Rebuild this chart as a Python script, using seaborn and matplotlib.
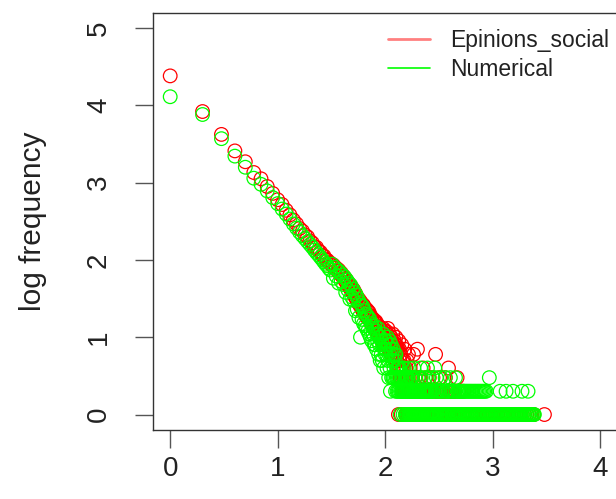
import matplotlib
matplotlib.use("Agg")
import numpy as np
import pandas as pd
import matplotlib.pyplot as plt
import seaborn as sns
from matplotlib.lines import Line2D

# ---------------------------------------------------------------------------
# Degree distributions (degree -> number of nodes with that degree)
# ---------------------------------------------------------------------------
series_names = ["Epinions_social", "Numerical"]
series_colors = ["#FF0000", "#00FF00"]

# Epinions_social: node counts for degrees 1..100
epinions_head_counts = [
    24000, 8300, 4200, 2570, 1860, 1350, 1120, 890, 725, 600,
    520, 438, 382, 328, 292, 255, 236, 210, 198, 176,
    166, 148, 145, 131, 126, 115, 112, 101, 99, 92,
    91, 85, 86, 78, 79, 72, 74, 66, 68, 61,
    62, 55, 57, 49, 52, 45, 48, 41, 44, 38,
    41, 34, 37, 31, 33, 28, 31, 26, 29, 24,
    27, 22, 26, 21, 24, 19, 23, 18, 22, 19,
    21, 17, 19, 15, 18, 16, 14, 17, 13, 16,
    14, 16, 12, 15, 13, 11, 14, 12, 13, 10,
    13, 11, 9, 12, 10, 13, 8, 11, 12, 9,
]
# Epinions_social: degrees above 100 held by two or more nodes
epinions_tail_degrees = [
    101, 102, 103, 104, 105, 106, 107, 108, 109, 110,
    111, 112, 113, 114, 115, 116, 117, 118, 119, 120,
    121, 122, 123, 124, 125, 126, 127, 128, 129, 130,
    131, 132, 134, 135, 136, 137, 138, 139, 140, 142,
    143, 144, 145, 146, 147, 148, 149, 150, 151, 152,
    153, 154, 156, 157, 159, 160, 162, 163, 165, 166,
    168, 170, 171, 173, 175, 177, 180, 182, 184, 187,
    190, 193, 197, 200, 203, 206, 209, 213, 217, 221,
    226, 230, 235, 240, 246, 252, 258, 265, 272, 279,
    287, 295, 303, 312, 321, 331, 342, 353, 364, 377,
    389, 402, 418, 433, 450, 468, 487, 510, 536,
]
epinions_tail_counts = [
    10, 12, 8, 11, 9, 13, 8, 10, 7, 11,
    9, 8, 10, 6, 9, 8, 7, 11, 6, 8,
    7, 9, 5, 8, 7, 10, 8, 5, 7, 6,
    4, 7, 9, 4, 7, 5, 3, 6, 4, 3,
    8, 4, 2, 5, 3, 4, 2, 5, 3, 7,
    2, 3, 4, 2, 3, 5, 2, 3, 6, 2,
    3, 2, 4, 2, 3, 2, 3, 2, 6, 2,
    3, 2, 2, 7, 2, 3, 2, 3, 2, 2,
    4, 2, 2, 3, 2, 2, 3, 2, 2, 3,
    2, 6, 2, 2, 3, 2, 2, 2, 3, 2,
    4, 2, 2, 2, 2, 3, 2, 2, 2,
]
# Epinions_social: degrees held by exactly one node
epinions_single_degrees = [
    133, 141, 155, 158, 161, 164, 167, 169, 172, 174,
    176, 178, 179, 181, 183, 185, 186, 188, 189, 191,
    192, 194, 195, 196, 198, 199, 201, 204, 207, 210,
    214, 219, 224, 228, 233, 238, 243, 249, 255, 262,
    268, 276, 283, 291, 299, 307, 316, 326, 336, 347,
    358, 370, 383, 396, 410, 425, 441, 458, 476, 495,
    516, 524, 551, 578, 603, 631, 660, 694, 726, 765,
    801, 842, 880, 925, 968, 1015, 1066, 1119, 1170, 1228,
    1290, 1351, 1417, 1488, 1560, 1641, 1718, 1806, 1893, 1987,
    2081, 2190, 2301, 2415, 3040,
]

# Numerical: node counts for degrees 1..100
numerical_head_counts = [
    12900, 7600, 3700, 2200, 1580, 1140, 950, 780, 640, 535,
    455, 392, 338, 292, 258, 228, 206, 188, 172, 158,
    146, 134, 124, 116, 108, 101, 94, 88, 84, 78,
    74, 88, 58, 80, 62, 74, 50, 69, 53, 64,
    48, 60, 38, 55, 41, 50, 31, 47, 33, 42,
    30, 38, 22, 35, 23, 31, 18, 28, 10, 26,
    17, 25, 15, 22, 14, 20, 13, 19, 12, 18,
    11, 17, 10, 15, 9, 14, 11, 13, 8, 14,
    8, 12, 7, 11, 9, 13, 6, 10, 8, 5,
    10, 6, 9, 5, 8, 11, 4, 7, 9, 6,
]
# Numerical: degrees above 100 held by two or more nodes
numerical_tail_degrees = [
    101, 102, 103, 104, 105, 106, 107, 108, 109, 110,
    111, 112, 113, 114, 115, 116, 117, 118, 119, 120,
    121, 122, 123, 124, 125, 126, 127, 128, 129, 130,
    131, 132, 133, 134, 135, 136, 137, 139, 140, 142,
    143, 144, 145, 146, 148, 149, 150, 151, 152, 153,
    155, 156, 157, 159, 160, 162, 163, 164, 166, 168,
    169, 171, 173, 175, 177, 179, 180, 182, 185, 186,
    188, 190, 192, 195, 197, 199, 203, 205, 208, 210,
    214, 217, 219, 223, 226, 230, 234, 236, 238, 244,
    248, 251, 255, 260, 264, 270, 274, 277, 281, 290,
    297, 300, 305, 314, 324, 330, 339, 350, 362, 372,
    381, 391, 405, 411, 425, 432, 447, 452, 470, 479,
    492, 505, 520, 532, 547, 561, 577, 592, 608, 625,
    642, 660, 679, 698, 717, 738, 758, 780, 802, 825,
    848, 873, 933, 1175, 1336, 1550, 1880, 2140,
]
numerical_tail_counts = [
    7, 9, 6, 4, 10, 5, 8, 3, 6, 9,
    4, 2, 7, 8, 3, 6, 5, 3, 7, 3,
    4, 6, 3, 5, 2, 6, 3, 4, 2, 3,
    4, 2, 3, 4, 2, 3, 4, 2, 3, 2,
    3, 2, 4, 2, 3, 2, 2, 4, 2, 3,
    2, 3, 2, 2, 3, 2, 2, 3, 2, 4,
    2, 2, 3, 3, 2, 2, 3, 2, 4, 2,
    2, 3, 2, 2, 2, 2, 3, 2, 2, 2,
    4, 3, 2, 2, 2, 2, 2, 3, 2, 2,
    4, 2, 3, 2, 2, 2, 2, 3, 2, 4,
    2, 3, 2, 2, 2, 3, 2, 2, 3, 2,
    2, 2, 3, 2, 2, 2, 2, 3, 2, 2,
    2, 2, 2, 2, 2, 2, 2, 2, 2, 2,
    2, 2, 2, 2, 2, 2, 2, 2, 2, 2,
    2, 2, 3, 2, 2, 2, 2, 2,
]
# Numerical: degrees held by exactly one node
numerical_single_degrees = [
    138, 147, 154, 158, 161, 165, 167, 170, 172, 174,
    176, 178, 181, 183, 184, 187, 189, 191, 193, 194,
    196, 198, 200, 201, 204, 206, 209, 212, 215, 218,
    221, 225, 228, 232, 240, 242, 246, 253, 257, 262,
    266, 272, 279, 284, 287, 293, 302, 308, 318, 321,
    327, 335, 344, 353, 358, 367, 376, 386, 396, 402,
    416, 420, 428, 440, 446, 458, 463, 475, 488, 497,
    510, 526, 540, 553, 570, 585, 600, 616, 633, 650,
    668, 688, 707, 727, 748, 768, 790, 812, 836, 860,
    885, 905, 921, 945, 970, 995, 1021, 1048, 1076, 1104,
    1133, 1163, 1193, 1225, 1257, 1290, 1324, 1359, 1394, 1431,
    1469, 1507, 1547, 1588, 1630, 1672, 1716, 1762, 1808, 1855,
    1904, 1954, 2006, 2058, 2113, 2168, 2225, 2284, 2344, 2406,
    2450,
]

x_ticks = [0, 1, 2, 3, 4]
y_ticks = [0, 1, 2, 3, 4, 5]
y_label = "log frequency"


def degree_table(head_counts, tail_degrees, tail_counts, single_degrees, name):
    degrees = list(range(1, len(head_counts) + 1)) + tail_degrees + single_degrees
    counts = head_counts + tail_counts + [1] * len(single_degrees)
    frame = pd.DataFrame({"degree": degrees, "count": counts})
    frame["log_degree"] = np.log10(frame["degree"])
    frame["log_count"] = np.log10(frame["count"])
    frame["series"] = name
    return frame


# Epinions first so the Numerical circles are painted over it
df = pd.concat(
    [
        degree_table(epinions_head_counts, epinions_tail_degrees,
                     epinions_tail_counts, epinions_single_degrees, series_names[0]),
        degree_table(numerical_head_counts, numerical_tail_degrees,
                     numerical_tail_counts, numerical_single_degrees, series_names[1]),
    ],
    ignore_index=True,
)

sns.set_theme(style="white")
plt.rcParams["font.family"] = ["Liberation Sans", "DejaVu Sans"]

W, H = 616, 499
fig = plt.figure(figsize=(W / 100, H / 100), dpi=100)
fig.patch.set_facecolor("white")
left, right, top, bottom = 153, 617.2, 12.5, 430
ax = fig.add_axes([left / W, 1 - bottom / H, (right - left) / W, (bottom - top) / H])

palette = dict(zip(series_names, series_colors))
sns.scatterplot(
    data=df, x="log_degree", y="log_count", hue="series",
    palette=palette, s=96, linewidth=0.9, legend=False, ax=ax,
)
# open circles: move the hue colours onto the edges
points = ax.collections[0]
edge_colors = points.get_facecolors()
points.set_edgecolors(edge_colors)
points.set_facecolors("none")

ax.set_xlim(-0.16, 4.16)
ax.set_ylim(-0.2, 5.2)
ax.set_xticks(x_ticks)
ax.set_yticks(y_ticks)
ax.set_xticklabels([str(t) for t in x_ticks], fontsize=20, color="#222222")
ax.set_yticklabels([str(t) for t in y_ticks], fontsize=20, rotation=90,
                   va="center", color="#222222")
ax.set_xlabel("")
ax.set_ylabel(y_label, fontsize=21.5, color="#222222")
ax.yaxis.set_label_coords(-0.228, 0.5)

for side in ["left", "right", "top", "bottom"]:
    ax.spines[side].set_visible(True)
    ax.spines[side].set_color("#333333")
    ax.spines[side].set_linewidth(1.0)
ax.tick_params(axis="x", direction="out", length=13, width=1.0, color="#555555",
               pad=6, bottom=True)
ax.tick_params(axis="y", direction="out", length=13, width=1.0, color="#555555",
               pad=16.5, left=True)
ax.grid(False)

handles = [
    Line2D([], [], color="#ff8080", lw=2.0),
    Line2D([], [], color="#00ff00", lw=1.2),
]
fig.legend(
    handles, series_names, loc="upper left",
    bbox_to_anchor=(388 / W, 1 - 29.5 / H), bbox_transform=fig.transFigure,
    frameon=False, fontsize=16.5, borderpad=0, borderaxespad=0,
    handlelength=1.83, handletextpad=0.86, labelspacing=0.26,
    labelcolor="#222222",
)

fig.savefig("out.png", dpi=100, facecolor="white")
